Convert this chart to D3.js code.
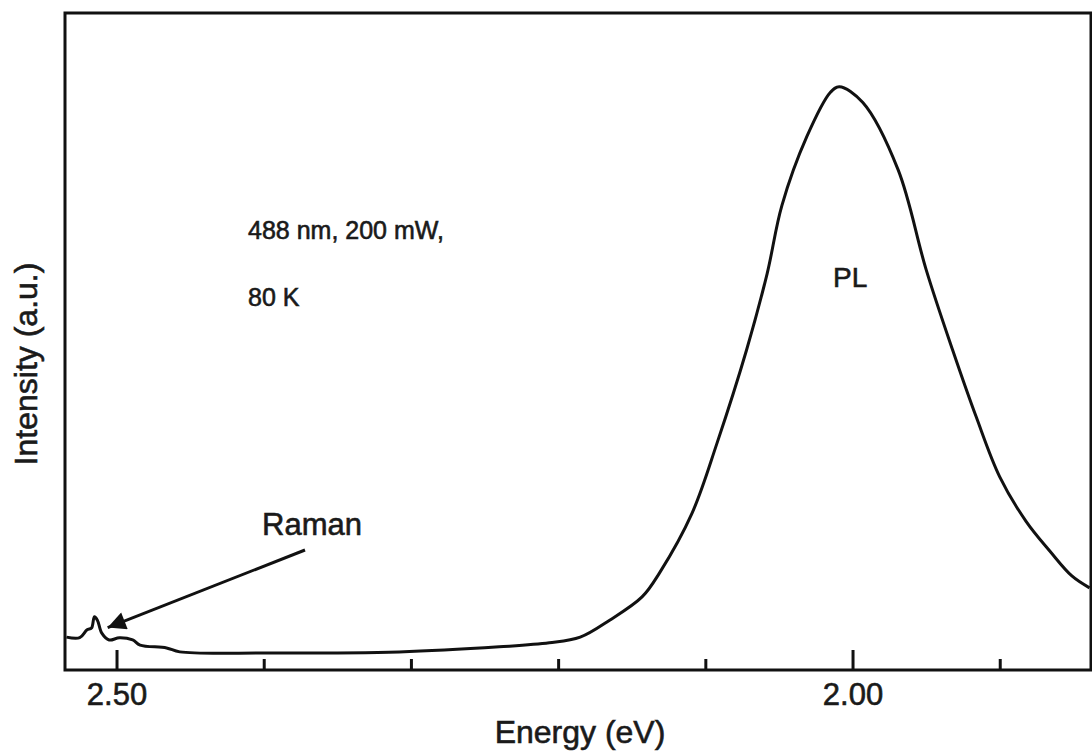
<!DOCTYPE html>
<html>
<head>
<meta charset="utf-8">
<script src="https://cdn.jsdelivr.net/npm/d3@7"></script>
<style>
  html, body { margin: 0; padding: 0; background: #fff; }
  svg text {
    font-family: "Liberation Sans", Arial, Helvetica, sans-serif;
    fill: #1a1a1a; stroke: #1a1a1a; stroke-width: 0.6px;
  }
</style>
</head>
<body>
<svg id="chart" width="1092" height="753"></svg>
<script>
// spectrum (energy in eV, intensity in a.u., peak = 1)
const energy = [2.534, 2.525, 2.520, 2.517, 2.515, 2.513, 2.510, 2.505, 2.498, 2.489,
    2.484, 2.466, 2.457, 2.398, 2.308, 2.240, 2.206, 2.185, 2.165, 2.143,
    2.131, 2.109, 2.092, 2.072, 2.058, 2.048, 2.031, 2.015, 2.009, 1.993,
    1.969, 1.950, 1.932, 1.916, 1.900, 1.882, 1.866, 1.851, 1.839];
const intensity = [0.028, 0.027, 0.041, 0.044, 0.064, 0.058, 0.035, 0.023, 0.027, 0.023,
    0.014, 0.009, 0.002, 0.000, 0.002, 0.011, 0.018, 0.028, 0.058, 0.099,
    0.142, 0.247, 0.371, 0.535, 0.670, 0.790, 0.912, 0.990, 1.000, 0.972,
    0.853, 0.677, 0.535, 0.417, 0.311, 0.232, 0.180, 0.136, 0.115];
const majorTicks = [2.50, 2.00];
const minorTicks = [2.40, 2.30, 2.20, 2.10, 1.90];
const notes = ['488 nm, 200 mW,', '80 K'];

const svg = d3.select('#chart');
const margin = { top: 13, right: 1, bottom: 83, left: 65 };
const width  = 1092 - margin.left - margin.right;
const height = 753 - margin.top - margin.bottom;

const x = d3.scaleLinear().domain([2.535, 1.838]).range([0, width]);
const y = d3.scaleLinear().domain([-0.03, 1.13]).range([height, 0]);

const defs = svg.append('defs');
defs.append('clipPath').attr('id', 'plot-clip')
    .append('rect').attr('width', width).attr('height', height);
defs.append('marker')
    .attr('id', 'arrow')
    .attr('viewBox', '0 0 10 10')
    .attr('refX', 10).attr('refY', 5)
    .attr('markerWidth', 8).attr('markerHeight', 6)
    .attr('markerUnits', 'strokeWidth')
    .attr('orient', 'auto')
    .append('path').attr('d', 'M0,0 L10,5 L0,10 z').attr('fill', '#111');

const g = svg.append('g')
    .attr('transform', `translate(${margin.left},${margin.top})`);

const pts = energy.map((e, i) => ({ e, v: intensity[i] }));
const line = d3.line()
    .x(d => x(d.e))
    .y(d => y(d.v))
    .curve(d3.curveCatmullRom.alpha(0.5));

g.append('path')
    .datum(pts)
    .attr('clip-path', 'url(#plot-clip)')
    .attr('fill', 'none')
    .attr('stroke', '#111')
    .attr('stroke-width', 3)
    .attr('stroke-linejoin', 'round')
    .attr('d', line);

// inward ticks on the bottom axis
const majorAxis = g.append('g')
    .attr('transform', `translate(0,${height})`)
    .call(d3.axisBottom(x).tickValues(majorTicks).tickFormat(d3.format('.2f'))
        .tickSizeInner(-20).tickSizeOuter(0).tickPadding(13));
majorAxis.select('.domain').remove();
majorAxis.selectAll('line').attr('stroke', '#111').attr('stroke-width', 3);
majorAxis.selectAll('text')
    .attr('font-size', 31)
    .attr('font-family', null)
    .attr('fill', null);

const minorAxis = g.append('g')
    .attr('transform', `translate(0,${height})`)
    .call(d3.axisBottom(x).tickValues(minorTicks).tickFormat('')
        .tickSizeInner(-11).tickSizeOuter(0));
minorAxis.select('.domain').remove();
minorAxis.selectAll('line').attr('stroke', '#111').attr('stroke-width', 3);

// frame
g.append('rect')
    .attr('width', width).attr('height', height)
    .attr('fill', 'none')
    .attr('stroke', '#111')
    .attr('stroke-width', 3);

// axis titles
svg.append('text')
    .attr('x', 580).attr('y', 743)
    .attr('text-anchor', 'middle')
    .attr('font-size', 32)
    .text('Energy (eV)');

svg.append('text')
    .attr('transform', 'translate(37,364) rotate(-90)')
    .attr('text-anchor', 'middle')
    .attr('font-size', 32)
    .text('Intensity (a.u.)');

// annotations
g.selectAll('.note')
    .data(notes)
    .enter().append('text')
    .attr('class', 'note')
    .attr('x', 248 - margin.left)
    .attr('y', (d, i) => 239 - margin.top + i * 67)
    .attr('font-size', 25)
    .text(d => d);

g.append('text')
    .attr('x', 833 - margin.left).attr('y', 287 - margin.top)
    .attr('font-size', 28)
    .text('PL');

g.append('text')
    .attr('x', 262 - margin.left).attr('y', 535 - margin.top)
    .attr('font-size', 31)
    .text('Raman');

g.append('line')
    .attr('x1', 305 - margin.left).attr('y1', 550 - margin.top)
    .attr('x2', x(2.506)).attr('y2', y(0.045))
    .attr('stroke', '#111')
    .attr('stroke-width', 3)
    .attr('marker-end', 'url(#arrow)');
</script>
</body>
</html>
